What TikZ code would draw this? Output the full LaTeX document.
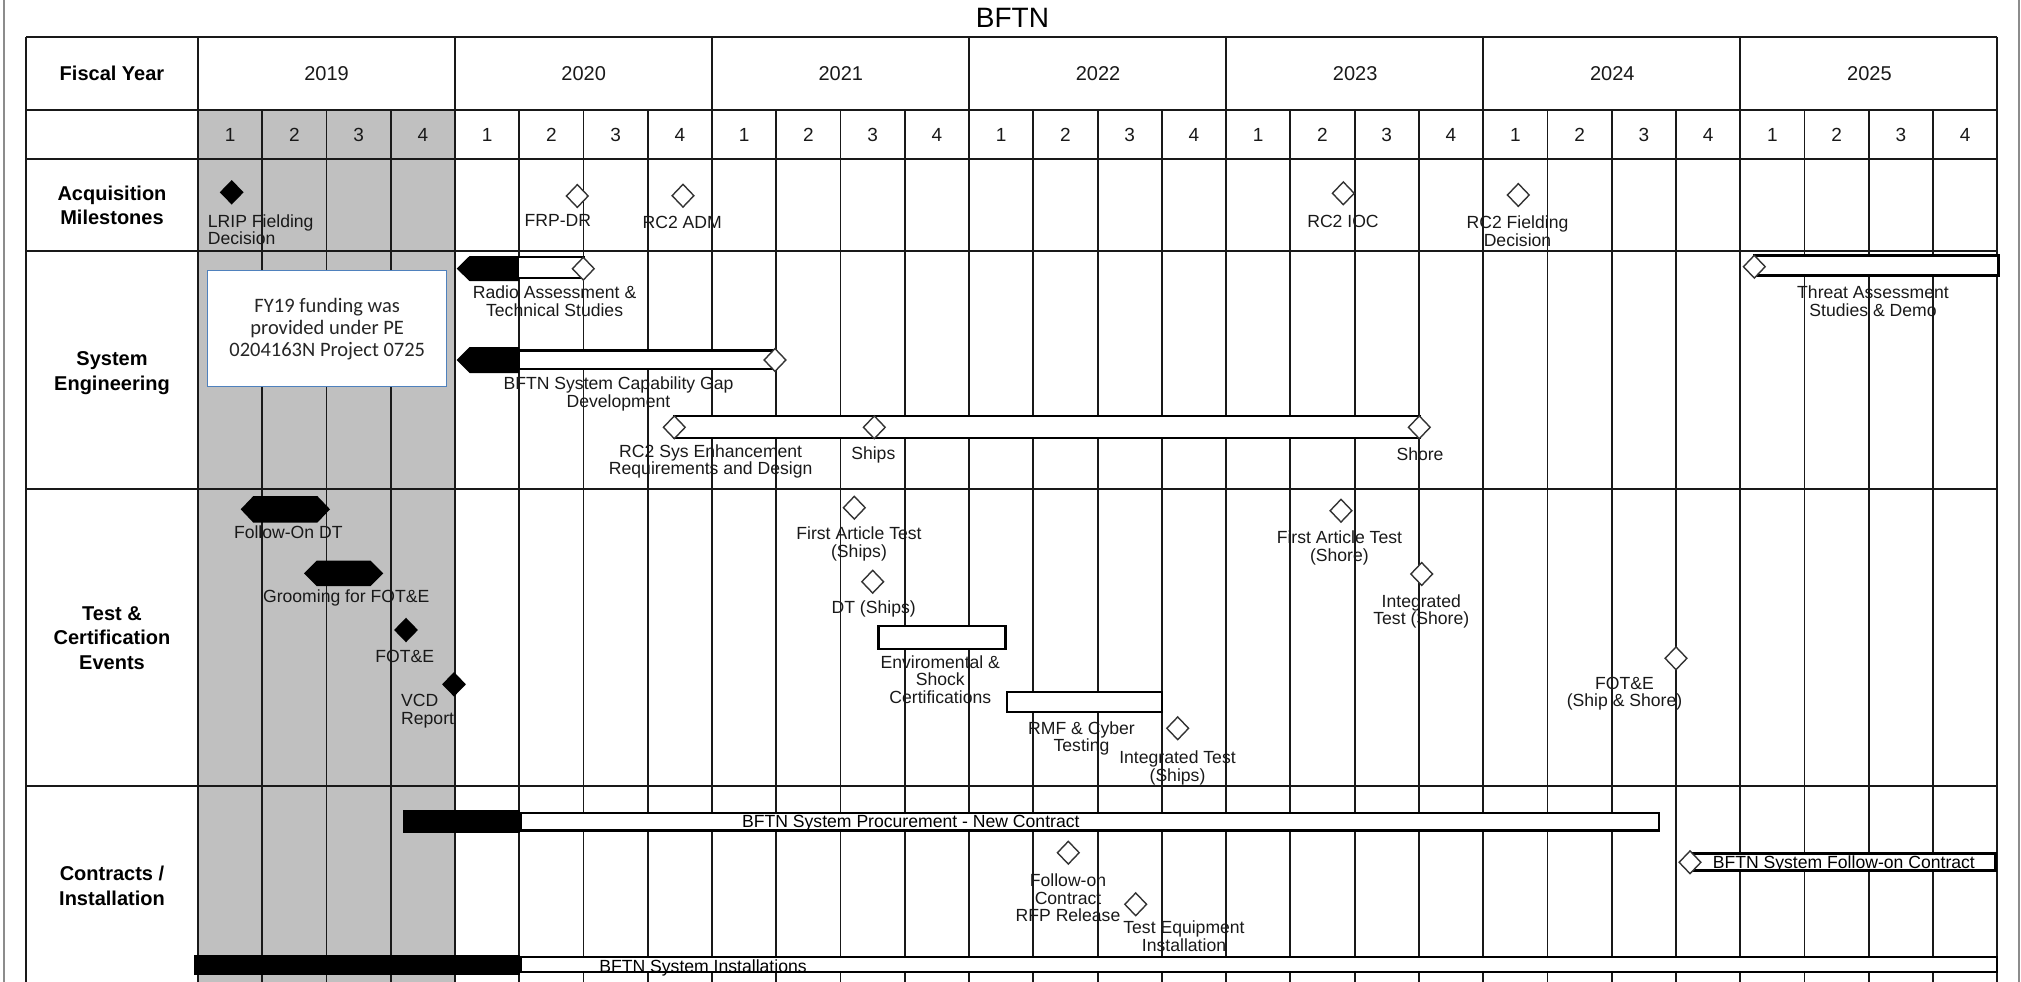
\documentclass[tikz,border=0pt]{standalone}
\usepackage{fontspec}
\setmainfont{Liberation Sans}
\newfontfamily\boxfont{Carlito}
\usetikzlibrary{shapes.geometric}
\definecolor{boxblue}{RGB}{79,129,189}
\definecolor{shadegray}{RGB}{192,192,192}
\definecolor{inkgray}{RGB}{25,25,25}
\newcommand\lblfont{\fontsize{17.6}{17.5}\selectfont}
\newcommand\hdrfont{\fontsize{20}{24.5}\selectfont\bfseries}
\newcommand\yrfont{\fontsize{20}{24}\selectfont}
\newcommand\qfont{\fontsize{19}{22}\selectfont}
\begin{document}
\begin{tikzpicture}[x=1pt,y=-1pt,
  gridline/.style={line width=1.8pt, draw=black!90},
  wbar/.style={rectangle, draw=black, line width=2.4pt, fill=white, inner sep=0pt, outer sep=0pt, anchor=west},
  odia/.style={diamond, draw=black!80, line width=1.4pt, fill=white, minimum width=22.3pt, minimum height=23.3pt, inner sep=0pt},
  fdia/.style={diamond, fill=black, minimum width=24pt, minimum height=24.7pt, inner sep=0pt},
  lbl/.style={font=\lblfont, text=inkgray, align=center, inner sep=0pt, anchor=north},
  lbll/.style={font=\lblfont, text=inkgray, align=left, inner sep=0pt, anchor=north west},
  hdr/.style={font=\hdrfont, text=black, align=center, inner sep=0pt, anchor=north},
  yearlbl/.style={font=\yrfont, text=inkgray, inner sep=0pt},
  qlbl/.style={font=\qfont, text=inkgray, inner sep=0pt},
  fybox/.style={rectangle, draw=boxblue, line width=1.3pt, fill=white, font=\boxfont\fontsize{20.5}{22}\selectfont, text=black!85, align=center, inner sep=0pt}
]
\useasboundingbox (0,0) rectangle (2021,982);
% page edges
\draw[line width=1.8pt, draw=black!45] (4,0) -- (4,982);
\draw[line width=1.8pt, draw=black!45] (2019.3,0) -- (2019.3,982);
% shaded FY2019
\fill[shadegray] (198,110) rectangle (455,982);
% grid
\foreach \yy in {37,110,159,251,489.3,786}
  \draw[gridline] (26,\yy) -- (1997.2,\yy);
\draw[gridline] (26,37) -- (26,982);
\draw[gridline] (198,37) -- (198,982);
\draw[gridline] (1997.2,37) -- (1997.2,982);
\foreach \i in {1,...,27}{
  \pgfmathsetmacro\xx{198+\i*64.2571}
  \pgfmathsetmacro\ytop{ifthenelse(mod(\i,4)==0,37,110)}
  \draw[gridline] (\xx,\ytop) -- (\xx,982);
}
% title
\node[font=\fontsize{28}{30}\selectfont, text=black, inner sep=0pt, anchor=north] (title) at (1012.5,8.3) {BFTN};
% header column
\node[font=\hdrfont, inner sep=0pt] (fy) at (112,73.3) {Fiscal Year};
\node[hdr] (hacq) at (112,185.5) {Acquisition\\Milestones};
\node[hdr] (hsys) at (112,351.8) {System\\Engineering};
\node[hdr] (htest) at (112,606.1) {Test \&\\Certification\\Events};
\node[hdr] (hcon) at (112,866.1) {Contracts /\\Installation};
% years and quarters
\foreach \yr [count=\k from 0] in {2019,2020,2021,2022,2023,2024,2025}
  \node[yearlbl] (y\yr) at ({326.57+257.143*\k},73.3) {\yr};
\foreach \i in {0,...,27}{
  \pgfmathtruncatemacro\qq{mod(\i,4)+1}
  \node[qlbl] (q\i) at ({230.13+64.2571*\i},135) {\qq};
}
% FY19 note box
\node[fybox, minimum width=239pt, minimum height=116pt] (fynote) at (327.2,328.7)
  {FY19 funding was\\provided under PE\\0204163N Project 0725};
% ---------- black summary pieces ----------
\fill[black] (456.7,268.7) -- (469.5,256) -- (519,256) -- (519,281) -- (469.5,281) -- cycle;
\fill[black] (456.7,360) -- (469.5,347) -- (519,347) -- (519,373) -- (469.5,373) -- cycle;
\fill[black] (240.7,509.3) -- (253.4,496) -- (317.3,496) -- (330,509.3) -- (317.3,522.7) -- (253.4,522.7) -- cycle;
\fill[black] (304,573.3) -- (316.7,560.7) -- (370.6,560.7) -- (383.3,573.3) -- (370.6,586) -- (316.7,586) -- cycle;
\fill[black] (402.7,810) rectangle (520,832.7);
\fill[black] (194.3,955) rectangle (520,975);
% ---------- bars ----------
\node[wbar, minimum width=65.3pt, minimum height=21pt] (radioBar) at (518,267.7) {};
\node[wbar, minimum width=256.5pt, minimum height=18.3pt] (gapBar) at (518.5,359.7) {};
\node[wbar, minimum width=745pt, minimum height=21.6pt] (rcBar) at (674.3,427) {};
\node[wbar, line width=2.8pt, minimum width=244.2pt, minimum height=19.7pt] (threatBar) at (1754.3,265.4) {};
\node[wbar, minimum width=127pt, minimum height=22.6pt] (envBar) at (878.5,637.5) {};
\node[wbar, minimum width=154.9pt, minimum height=20.2pt] (rmfBar) at (1007.2,702) {};
\node[wbar, minimum width=1138.3pt, minimum height=17.6pt] (procBar) at (520.5,821.7) {};
\node[wbar, minimum width=305.5pt, minimum height=17pt] (focBar) at (1690,862) {};
\node[wbar, minimum width=1476.6pt, minimum height=14.9pt] (instBar) at (520.5,964.65) {};
% ---------- diamonds ----------
\node[fdia] (lripD) at (231.7,192.3) {};
\node[odia] (frpD) at (577.3,196) {};
\node[odia] (admD) at (683,195.7) {};
\node[odia] (iocD) at (1343.3,193.3) {};
\node[odia] (rcfdD) at (1518.3,195) {};
\node[odia] (radioD) at (583.3,268.7) {};
\node[odia] (gapD) at (775,360) {};
\node[odia] (rcsD) at (674.3,427.3) {};
\node[odia] (shipsD) at (874.3,427.3) {};
\node[odia] (shoreD) at (1419.3,427.3) {};
\node[odia] (threatD) at (1754.3,266.7) {};
\node[fdia] (foteD) at (406,630) {};
\node[fdia] (vcdD) at (454,684.3) {};
\node[odia] (fatsD) at (854.3,507.7) {};
\node[odia] (dtD) at (872.7,581.7) {};
\node[odia] (itsD) at (1177.7,728.3) {};
\node[odia] (fatshD) at (1341,510.7) {};
\node[odia] (itshD) at (1421.7,574) {};
\node[odia] (fote2D) at (1676,658.3) {};
\node[odia] (rfpD) at (1068.3,852.7) {};
\node[odia] (teiD) at (1135.7,904.3) {};
\node[odia] (focD) at (1690,862.3) {};
% ---------- labels ----------
\node[lbll] (lripL) at (207.7,214.4) {LRIP Fielding\\Decision};
\node[lbl] (frpL) at (557.8,213.7) {FRP-DR};
\node[lbl] (admL) at (682.2,216) {RC2 ADM};
\node[lbl] (iocL) at (1343,214.7) {RC2 IOC};
\node[lbl] (rcfdL) at (1517.5,216) {RC2 Fielding\\Decision};
\node[lbl] (radioL) at (554.6,285.7) {Radio Assessment \&\\Technical Studies};
\node[lbl] (gapL) at (618.5,377) {BFTN System Capability Gap\\Development};
\node[lbl] (rcsL) at (710.7,444.4) {RC2 Sys Enhancement\\Requirements and Design};
\node[lbl] (shipsL) at (873.3,447) {Ships};
\node[lbl] (shoreL) at (1420,448) {Shore};
\node[lbl] (threatL) at (1873,286) {Threat Assessment\\Studies \& Demo};
\node[lbl] (fodtL) at (288.3,526) {Follow-On DT};
\node[lbl] (groomL) at (346.2,589.7) {Grooming for FOT\&E};
\node[lbl] (foteL) at (404.8,650.4) {FOT\&E};
\node[lbll] (vcdL) at (401,694.4) {VCD\\Report};
\node[lbl] (fatsL) at (859,527) {First Article Test\\(Ships)};
\node[lbl] (dtL) at (873.7,600.4) {DT (Ships)};
\node[lbl] (envL) at (940.3,655.4) {Enviromental \&\\Shock\\Certifications};
\node[lbl] (rmfL) at (1081.5,721.4) {RMF \& Cyber\\Testing};
\node[lbl] (itsL) at (1177.5,750.7) {Integrated Test\\(Ships)};
\node[lbl] (fatshL) at (1339.4,531) {First Article Test\\(Shore)};
\node[lbl] (itshL) at (1421.3,594.4) {Integrated\\Test (Shore)};
\node[lbl] (fote2L) at (1624.5,677) {FOT\&E\\(Ship \& Shore)};
\node[lbl, text=black] (procL) at (910.8,815.4) {BFTN System Procurement - New Contract};
\node[lbl, text=black] (focL) at (1843.8,856) {BFTN System Follow-on Contract};
\node[lbl] (rfpL) at (1068,873.7) {Follow-on\\Contract\\RFP Release};
\node[lbl] (teiL) at (1184,921) {Test Equipment\\Installation};
\node[lbl, text=black] (instL) at (703,959.7) {BFTN System Installations};
\end{tikzpicture}
\end{document}
